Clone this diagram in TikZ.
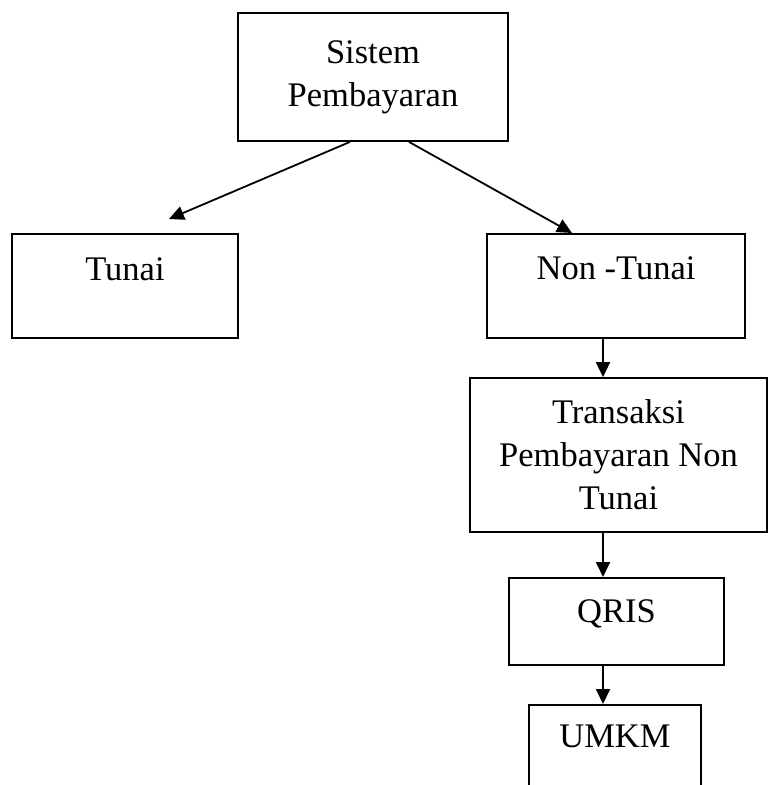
\documentclass[tikz,border=0pt]{standalone}
\usepackage{fontspec}
\setmainfont{Liberation Serif}
\usetikzlibrary{arrows.meta}

\begin{document}
\begin{tikzpicture}[x=1pt, y=-1pt,
    every node/.style = {shape=rectangle, draw, line width=1.8pt,
      align=center, inner sep=0pt,
      font=\fontsize{34.5}{43}\selectfont},
    topbox/.style 2 args = {anchor=north, minimum width=#1,
      text height=#2},
    link/.style = {line width=1.8pt, -{Triangle[length=15pt,width=14pt]}}]
    \useasboundingbox (0,0) rectangle (769,785);
    \node (sistem) [minimum width=270pt, minimum height=128pt] at (373,77) {Sistem\\Pembayaran};
    \node (tunai) [topbox={226pt}{47pt}, text depth=57pt] at (125,233) {Tunai};
    \node (nontunai) [topbox={258pt}{46pt}, text depth=58pt] at (616,233) {Non -Tunai};
    \node (transaksi) [minimum width=297pt, minimum height=154pt] at (618.5,455) {Transaksi\\Pembayaran Non\\Tunai};
    \node (qris) [topbox={215pt}{45pt}, text depth=42pt] at (616.5,577) {QRIS};
    \node (umkm) [topbox={172pt}{43pt}, text depth=70pt] at (615,704) {UMKM};
    % arrows
    \coordinate (sl) at (350,0);
    \coordinate (sr) at (409,0);
    \coordinate (nr) at (572,0);
    \coordinate (ax) at (603,0);
    \coordinate (tipT) at (169,219);
    \draw[link] (sistem.south -| sl) -- (tipT);
    \draw[link] (sistem.south -| sr) -- (nontunai.north -| nr);
    \draw[link] (nontunai.south -| ax) -- (transaksi.north -| ax);
    \draw[link] (transaksi.south -| ax) -- (qris.north -| ax);
    \draw[link] (qris.south -| ax) -- (umkm.north -| ax);
\end{tikzpicture}
\end{document}
